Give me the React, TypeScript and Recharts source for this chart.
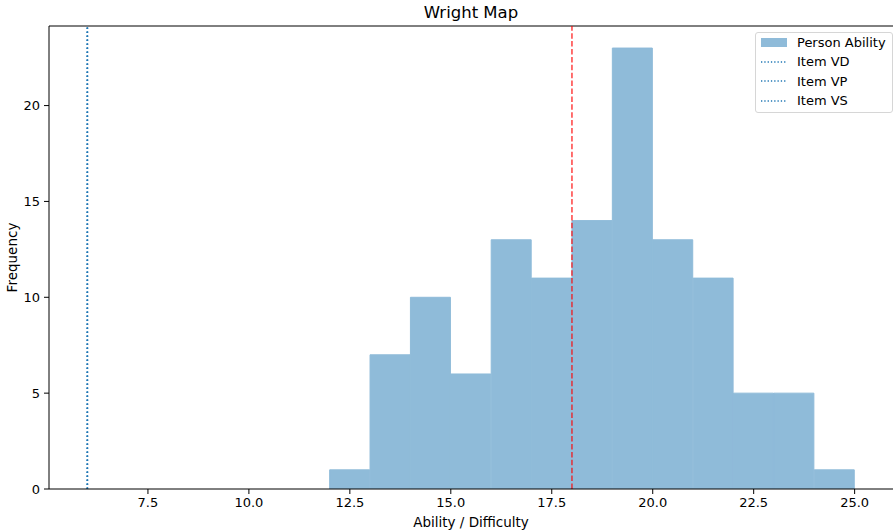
import React from "react"
import {
  ComposedChart,
  Bar,
  XAxis,
  YAxis,
  ReferenceLine,
  Legend,
} from "recharts"

// histogram of person abilities (bin centers, width 1)
const binCenters = [12.5, 13.5, 14.5, 15.5, 16.5, 17.5, 18.5, 19.5, 20.5, 21.5, 22.5, 23.5, 24.5]
const counts = [1, 7, 10, 6, 13, 11, 14, 23, 13, 11, 5, 5, 1]

// item difficulties
const itemNames = ["Item VD", "Item VP", "Item VS"]
const itemDifficulty = [6.0, 6.0, 6.0]

const meanAbility = 18

const xTicks = [7.5, 10, 12.5, 15, 17.5, 20, 22.5, 25]
const yTicks = [0, 5, 10, 15, 20]

const X_DOMAIN: [number, number] = [5.05, 25.95]
const Y_DOMAIN: [number, number] = [0, 24.15]

const FONT = "'DejaVu Sans', sans-serif"
const BAR_COLOR = "#8fbbd9"
const ITEM_COLOR = "#1f77b4"

const histData = binCenters.map((x, i) => ({ x, count: counts[i] }))

function renderLegend() {
  return (
    <div
      style={{
        background: "#fff",
        border: "1px solid #d6d6d6",
        borderRadius: 3,
        padding: "0px 6px 2px 5px",
        fontFamily: FONT,
        fontSize: 13,
        color: "#000",
        lineHeight: "19.3px",
        whiteSpace: "nowrap",
        boxSizing: "border-box",
      }}
    >
      <div style={{ display: "flex", alignItems: "center" }}>
        <span style={{ display: "inline-block", width: 26, height: 9, background: BAR_COLOR, marginRight: 10 }} />
        Person Ability
      </div>
      {itemNames.map((name) => (
        <div key={name} style={{ display: "flex", alignItems: "center" }}>
          <svg width={26} height={4} style={{ marginRight: 10 }}>
            <line x1={0} y1={2} x2={26} y2={2} stroke={ITEM_COLOR} strokeWidth={1.3} strokeDasharray="1.3 2" />
          </svg>
          {name}
        </div>
      ))}
    </div>
  )
}

export default function App() {
  return (
    <div style={{ position: "fixed", left: 0, top: 0, width: 893, height: 532, background: "#fff" }}>
      <div
        style={{
          position: "absolute",
          left: 49,
          width: 844,
          top: 3,
          textAlign: "center",
          fontFamily: FONT,
          fontSize: 16.5,
          color: "#000",
        }}
      >
        Wright Map
      </div>
      <ComposedChart
        width={893}
        height={532}
        data={histData}
        margin={{ top: 26, right: 0, bottom: 0, left: 0 }}
        barCategoryGap={0}
        barGap={0}
        style={{ fontFamily: FONT }}
      >
        <XAxis
          dataKey="x"
          type="number"
          domain={X_DOMAIN}
          ticks={xTicks}
          allowDataOverflow
          tickFormatter={(v: number) => v.toFixed(1)}
          height={43}
          tickSize={5}
          tickMargin={4}
          stroke="#000"
          tick={{ fill: "#000", fontSize: 13 }}
          label={{ value: "Ability / Difficulty", position: "insideBottom", offset: 5, fill: "#000", fontSize: 13.5 }}
        />
        <YAxis
          type="number"
          domain={Y_DOMAIN}
          ticks={yTicks}
          allowDataOverflow
          width={49}
          tickSize={5}
          tickMargin={4}
          stroke="#000"
          tick={{ fill: "#000", fontSize: 13 }}
          label={{
            value: "Frequency",
            angle: -90,
            position: "insideLeft",
            offset: 12,
            fill: "#000",
            fontSize: 13.5,
            style: { textAnchor: "middle" },
          }}
        />
        <ReferenceLine y={Y_DOMAIN[1]} stroke="#000" strokeWidth={1} />
        <Bar dataKey="count" fill={BAR_COLOR} stroke={BAR_COLOR} strokeWidth={1} isAnimationActive={false} />
        {itemNames.map((name, i) => (
          <ReferenceLine
            key={name}
            x={itemDifficulty[i]}
            stroke={ITEM_COLOR}
            strokeWidth={1.5}
            strokeDasharray="1.5 2.5"
          />
        ))}
        <ReferenceLine x={meanAbility} stroke="red" strokeOpacity={0.75} strokeWidth={1.5} strokeDasharray="5.5 2.4" />
        <Legend
          layout="vertical"
          align="center"
          verticalAlign="middle"
          content={renderLegend}
          wrapperStyle={{ top: 32, left: 755, width: "auto", height: "auto" }}
        />
      </ComposedChart>
    </div>
  )
}
